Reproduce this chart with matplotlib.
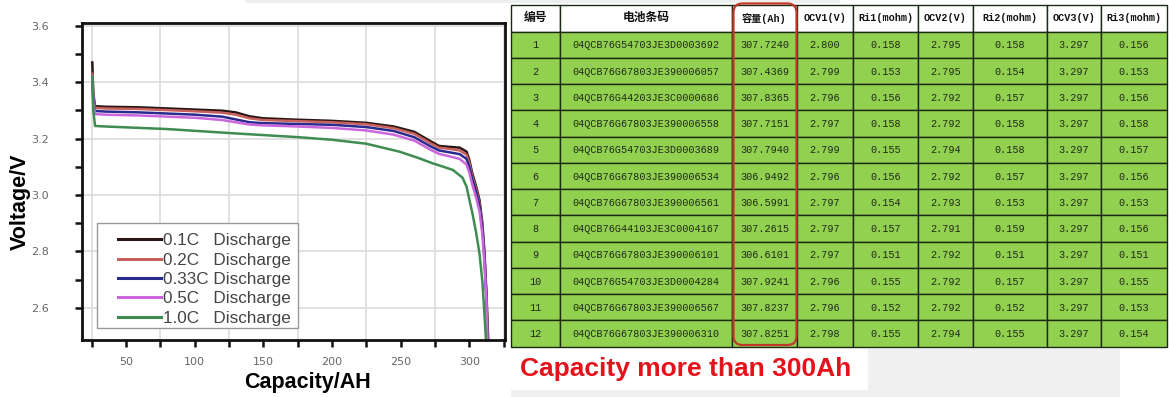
import matplotlib
matplotlib.use("Agg")
import matplotlib.pyplot as plt
from matplotlib.ticker import FixedLocator, NullFormatter, FormatStrFormatter
from matplotlib.patches import Rectangle, FancyBboxPatch
import numpy as np

# ---- discharge curves (capacity Ah, voltage V) ----
cap_01 = [25.5, 26.2, 27.5, 35, 60, 100, 120, 130, 140, 150, 175, 200, 225, 245, 260, 272, 278, 285, 293, 298, 300, 302, 305, 307.5, 309.5, 311, 312.5, 313.8]
v_01 = [3.47, 3.36, 3.315, 3.313, 3.311, 3.303, 3.299, 3.293, 3.279, 3.272, 3.267, 3.263, 3.256, 3.243, 3.224, 3.19, 3.174, 3.171, 3.168, 3.154, 3.125, 3.08, 3.03, 2.98, 2.90, 2.80, 2.65, 2.48]

cap_02 = [25.5, 26.2, 27.5, 35, 60, 100, 120, 130, 140, 150, 175, 200, 225, 245, 260, 272, 278, 285, 293, 298, 300, 302, 305, 307.5, 309.5, 311, 312.5, 313.6]
v_02 = [3.43, 3.35, 3.309, 3.307, 3.305, 3.297, 3.292, 3.285, 3.272, 3.266, 3.262, 3.258, 3.251, 3.237, 3.217, 3.183, 3.168, 3.164, 3.158, 3.143, 3.115, 3.07, 3.02, 2.97, 2.89, 2.79, 2.64, 2.48]

cap_033 = [25.5, 26.2, 27.5, 35, 60, 100, 120, 130, 140, 150, 175, 200, 225, 245, 260, 272, 278, 285, 293, 298, 300, 302, 305, 307.5, 309.5, 311, 312.5, 313.4]
v_033 = [3.42, 3.34, 3.298, 3.296, 3.293, 3.285, 3.278, 3.268, 3.258, 3.255, 3.252, 3.249, 3.241, 3.227, 3.205, 3.172, 3.158, 3.152, 3.145, 3.128, 3.10, 3.06, 3.01, 2.96, 2.88, 2.78, 2.63, 2.48]

cap_05 = [25.5, 26.2, 27.5, 35, 60, 100, 120, 130, 140, 150, 175, 200, 225, 245, 260, 272, 278, 285, 293, 298, 300, 302, 305, 307.5, 309.5, 311, 312.5, 313.2]
v_05 = [3.42, 3.33, 3.287, 3.285, 3.282, 3.274, 3.266, 3.258, 3.250, 3.247, 3.243, 3.238, 3.229, 3.214, 3.193, 3.160, 3.146, 3.138, 3.128, 3.108, 3.08, 3.04, 2.99, 2.94, 2.86, 2.76, 2.62, 2.48]

cap_10 = [25.5, 26.2, 27.5, 35, 80, 128, 176, 200, 225, 249, 262, 273, 280, 288, 295, 298, 300, 302.5, 305, 307.5, 309.6, 311, 312.2]
v_10 = [3.42, 3.30, 3.245, 3.243, 3.234, 3.219, 3.205, 3.196, 3.182, 3.154, 3.133, 3.113, 3.102, 3.089, 3.062, 3.03, 2.985, 2.93, 2.866, 2.79, 2.69, 2.58, 2.48]

series_caps = [cap_01, cap_02, cap_033, cap_05, cap_10]
series_volts = [v_01, v_02, v_033, v_05, v_10]
series_labels = ["0.1C   Discharge", "0.2C   Discharge", "0.33C Discharge", "0.5C   Discharge", "1.0C   Discharge"]
series_colors = ["#2a1515", "#c8605c", "#2b2a8e", "#cc66dd", "#3e8c50"]

# ---- test table ----
headers = ["编号", "电池条码", "容量(Ah)", "OCV1(V)", "Ri1(mohm)", "OCV2(V)", "Ri2(mohm)", "OCV3(V)", "Ri3(mohm)"]
cell_no = [str(i) for i in range(1, 13)]
barcodes = ["04QCB76G54703JE3D0003692", "04QCB76G67803JE390006057", "04QCB76G44203JE3C0000686",
            "04QCB76G67803JE390006558", "04QCB76G54703JE3D0003689", "04QCB76G67803JE390006534",
            "04QCB76G67803JE390006561", "04QCB76G44103JE3C0004167", "04QCB76G67803JE390006101",
            "04QCB76G54703JE3D0004284", "04QCB76G67803JE390006567", "04QCB76G67803JE390006310"]
capacity = ["307.7240", "307.4369", "307.8365", "307.7151", "307.7940", "306.9492",
            "306.5991", "307.2615", "306.6101", "307.9241", "307.8237", "307.8251"]
ocv1 = ["2.800", "2.799", "2.796", "2.797", "2.799", "2.796", "2.797", "2.797", "2.797", "2.796", "2.796", "2.798"]
ri1 = ["0.158", "0.153", "0.156", "0.158", "0.155", "0.156", "0.154", "0.157", "0.151", "0.155", "0.152", "0.155"]
ocv2 = ["2.795", "2.795", "2.792", "2.792", "2.794", "2.792", "2.793", "2.791", "2.792", "2.792", "2.792", "2.794"]
ri2 = ["0.158", "0.154", "0.157", "0.158", "0.158", "0.157", "0.153", "0.159", "0.151", "0.157", "0.152", "0.155"]
ocv3 = ["3.297"] * 12
ri3 = ["0.156", "0.153", "0.156", "0.158", "0.157", "0.156", "0.153", "0.156", "0.151", "0.155", "0.153", "0.154"]
columns = [cell_no, barcodes, capacity, ocv1, ri1, ocv2, ri2, ocv3, ri3]

W, H = 1169, 397
fig = plt.figure(figsize=(W / 100, H / 100), dpi=100, facecolor="white")

# left chart
ax = fig.add_axes([82 / W, 1 - 340 / H, (505 - 82) / W, (340 - 23) / H])
for x, y, lab, c in zip(series_caps, series_volts, series_labels, series_colors):
    ax.plot(x, y, color=c, lw=1.8, label=lab, solid_joinstyle="round")

ax.set_xlim(18, 326)
ax.set_ylim(2.486, 3.61)
ax.xaxis.set_major_locator(FixedLocator(np.arange(25, 326, 50)))
ax.xaxis.set_minor_locator(FixedLocator(np.arange(50, 301, 50)))
ax.xaxis.set_major_formatter(NullFormatter())
ax.xaxis.set_minor_formatter(FormatStrFormatter("%d"))
ax.yaxis.set_major_locator(FixedLocator(np.arange(2.6, 3.61, 0.2)))
ax.yaxis.set_minor_locator(FixedLocator(np.arange(2.7, 3.55, 0.2)))
ax.yaxis.set_major_formatter(FormatStrFormatter("%.1f"))
ax.grid(True, which="major", color="#dcdcdc", lw=1.2)
ax.set_axisbelow(True)
ax.tick_params(which="both", direction="out", length=5, width=1.8, colors="#111111",
               labelcolor="#666666", labelsize=8)
ax.tick_params(axis="y", which="both", pad=19)
ax.tick_params(axis="x", which="both", pad=7)
for s in ax.spines.values():
    s.set_linewidth(2.0)
    s.set_color("#111111")

ax.set_xlabel("Capacity/AH", fontsize=15.5, fontweight="bold", family="Liberation Sans")
ax.set_ylabel("Voltage/V", fontsize=15.5, fontweight="bold", family="Liberation Sans")
ax.xaxis.set_label_coords(0.534, -0.1)
ax.yaxis.set_label_coords(-0.12, 0.435)

# legend box drawn separately so the handles sit inset like the original
ax.add_patch(Rectangle((0.0355, 0.038), 0.475, 0.331, transform=ax.transAxes, facecolor="white",
                       edgecolor="#999999", lw=1.0, zorder=4))
leg = ax.legend(loc="center left", bbox_to_anchor=(0.085, 0.191), frameon=False,
                handlelength=2.5, handletextpad=0.15, labelspacing=0.26,
                borderpad=0, borderaxespad=0, prop={"family": "Liberation Sans", "size": 12.3})
leg.set_zorder(5)
for t in leg.get_texts():
    t.set_color("#444444")
for h in leg.get_lines():
    h.set_linewidth(2.2)

# overlay in pixel coordinates for the table image
ov = fig.add_axes([0, 0, 1, 1], facecolor="none")
ov.set_xlim(0, W)
ov.set_ylim(H, 0)
ov.axis("off")

ov.add_patch(Rectangle((245, 0), 595, 3, facecolor="#eeeeee", edgecolor="none"))
ov.add_patch(Rectangle((868, 349), 252, 48, facecolor="#f0f0f0", edgecolor="none"))
ov.add_patch(Rectangle((511, 390), 357, 7, facecolor="#f0f0f0", edgecolor="none"))

col_edges = [511, 560, 732, 797, 853, 918, 973, 1047, 1101, 1167]
top, head_h, row_h = 5, 26.7, 26.25
green = "#92d050"
line_c = "#1c2a14"
mono = ["Liberation Mono", "Noto Sans CJK SC"]

# header
for j, txt in enumerate(headers):
    x0, x1 = col_edges[j], col_edges[j + 1]
    ov.add_patch(Rectangle((x0, top), x1 - x0, head_h, facecolor="white", edgecolor=line_c, lw=1.0))
    fs = 8.5 if j < 2 else 7.3
    ov.text((x0 + x1) / 2, top + head_h / 2, txt, ha="center", va="center", fontsize=fs,
            fontweight="bold", family=mono, color="#111111")

# body rows
for i in range(12):
    y0 = top + head_h + i * row_h
    for j, col in enumerate(columns):
        x0, x1 = col_edges[j], col_edges[j + 1]
        ov.add_patch(Rectangle((x0, y0), x1 - x0, row_h, facecolor=green, edgecolor=line_c, lw=1.0))
        ov.text((x0 + x1) / 2, y0 + row_h / 2 + 0.5, col[i], ha="center", va="center",
                fontsize=7.3, family=mono, color="#1f2a18")

# red highlight around capacity column
ov.add_patch(FancyBboxPatch((733.5, 3.5), 63, 341.5, boxstyle="round,pad=0,rounding_size=9",
                            facecolor="none", edgecolor="#c0392b", lw=1.6, zorder=5))

ov.text(520, 369, "Capacity more than 300Ah", ha="left", va="center", fontsize=19,
        fontweight="bold", family="Liberation Sans", color="#e3121b")

fig.savefig("out.png", dpi=100)
